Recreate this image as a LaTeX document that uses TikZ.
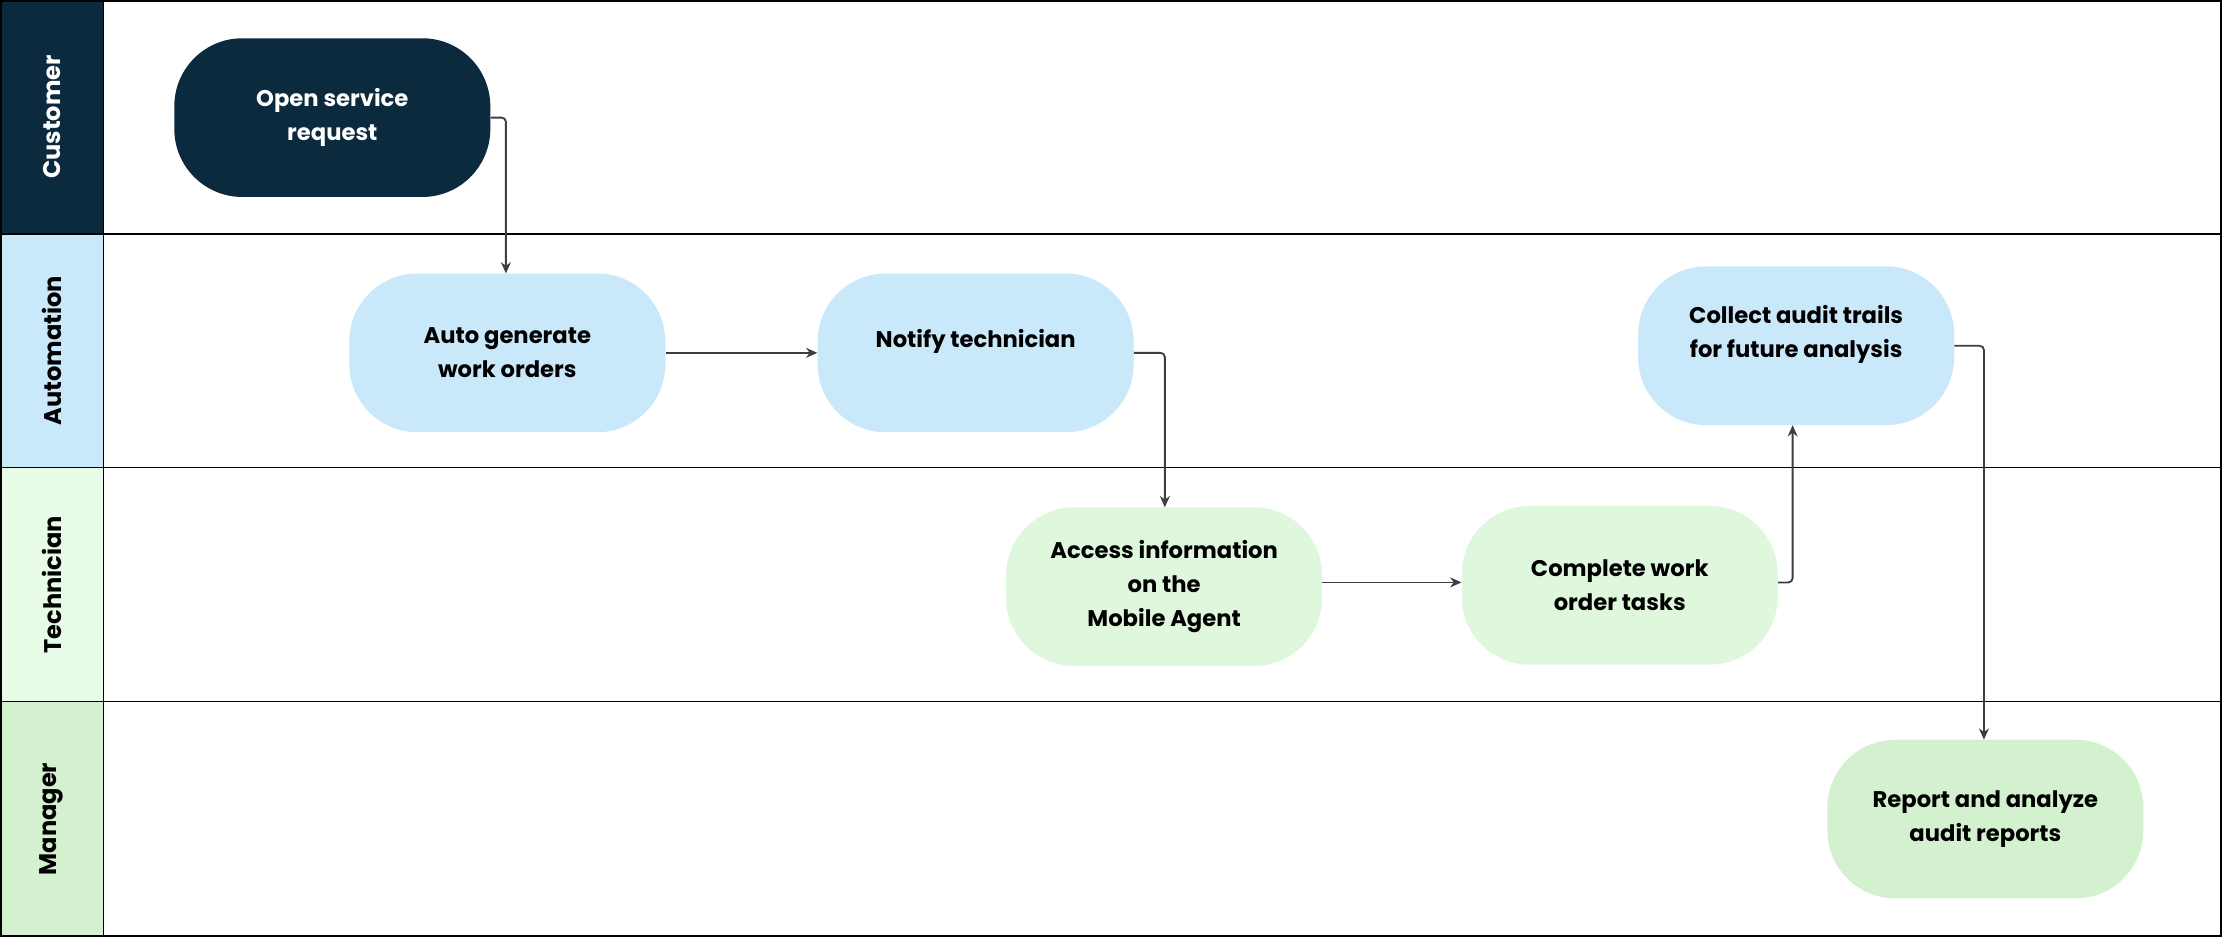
\documentclass[tikz,border=0pt]{standalone}
\usepackage{fontspec}
\setmainfont{Poppins}
\usetikzlibrary{arrows.meta}
\definecolor{navy}{HTML}{0C2A3E}
\definecolor{lblue}{HTML}{C9E8FA}
\definecolor{lgreen}{HTML}{DFF7DC}
\definecolor{mgreen}{HTML}{D4F1CF}
\definecolor{tgreen}{HTML}{E8FBE6}
\definecolor{line}{HTML}{3A3F45}
\begin{document}
\begin{tikzpicture}[x=1pt,y=-1pt,
  flowbox/.style={rounded corners=48pt,minimum width=223pt,minimum height=112pt,align=center,font=\fontsize{16}{24}\selectfont\bfseries,text=black,inner sep=0pt},
  lane/.style={rotate=90,font=\fontsize{17}{20}\selectfont\bfseries},
  conn/.style={draw=line,line width=1.3pt,rounded corners=3pt,-{Stealth[length=8pt,width=7pt]}}]
\useasboundingbox (0,0) rectangle (1568,661);
\fill[navy] (0,0) rectangle (73,165);
\fill[lblue] (0,165) rectangle (73,330);
\fill[tgreen] (0,330) rectangle (73,495);
\fill[mgreen] (0,495) rectangle (73,661);
\draw[line width=1.2pt] (0.6,0.6) rectangle (1567.4,660.4);
\foreach \y in {165,330,495} \draw[line width=1.2pt] (0,\y) -- (1568,\y);
\draw[line width=1.2pt] (73,0) -- (73,661);
\node[lane,text=white] (l1) at (36.5,82.5) {Customer};
\node[lane] (l2) at (36.5,247.5) {Automation};
\node[lane] (l3) at (36.5,412.5) {Technician};
\node[lane] (l4) at (36.5,578) {Manager};
\node[flowbox,fill=navy,text=white] (open) at (234.5,83) {Open service\\request};
\node[flowbox,fill=lblue] (auto) at (358,249) {Auto generate\\work orders};
\node[flowbox,fill=lblue] (notify) at (688.5,249) {Notify technician\\[-4pt]\mbox{}};
\node[flowbox,fill=lblue] (collect) at (1267.5,244) {Collect audit trails\\for future analysis\\[-4pt]\mbox{}};
\node[flowbox,fill=lgreen] (access) at (821.5,414) {Access information\\on the\\Mobile Agent};
\node[flowbox,fill=lgreen] (complete) at (1143,413) {Complete work\\order tasks};
\node[flowbox,fill=mgreen] (report) at (1401,578) {Report and analyze\\audit reports};
\draw[conn] (open.east) -- (357,83) -- (357,193);
\draw[conn] (auto.east) -- (notify.west);
\draw[conn] (notify.east) -- (822,249) -- (822,358);
\draw[conn] (access.east |- 0,411) -- (complete.west |- 0,411);
\draw[conn] (complete.east |- 0,411) -- (1265,411) -- (1265,300);
\draw[conn] (collect.east) -- (1400,244) -- (1400,522);
\end{tikzpicture}
\end{document}
